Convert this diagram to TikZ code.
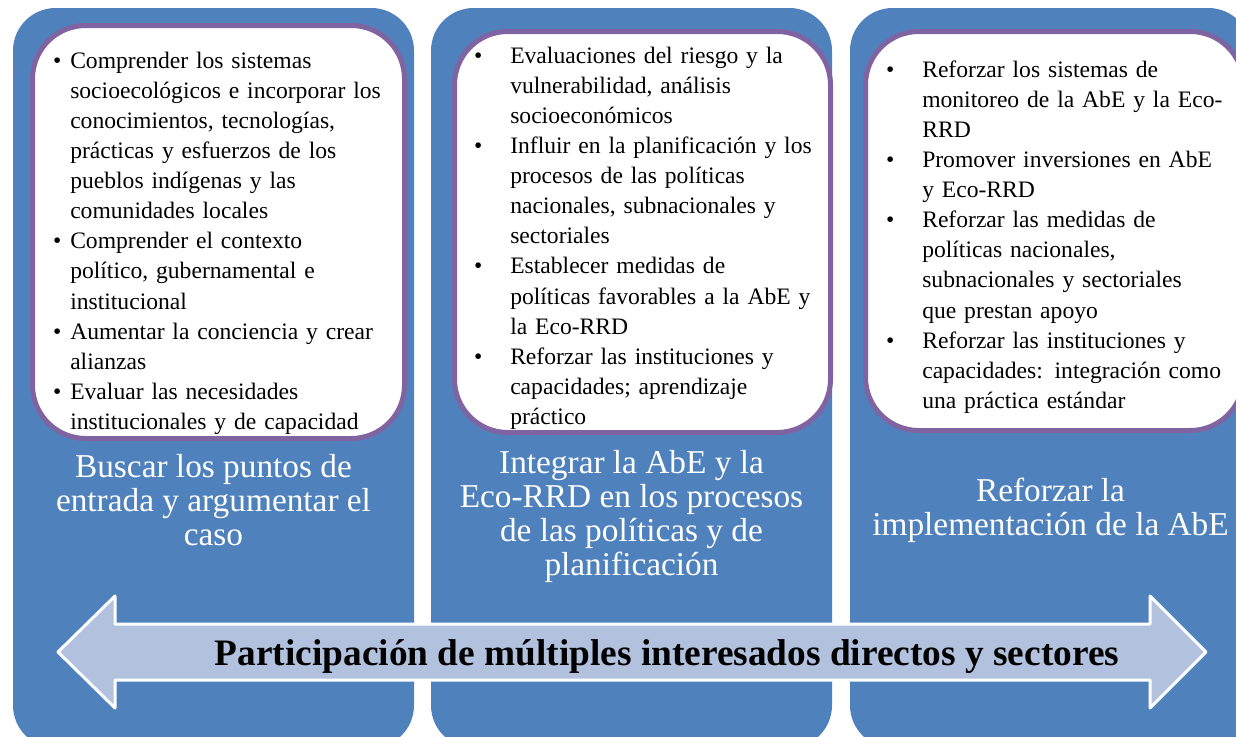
\documentclass[tikz,border=0pt]{standalone}
\usepackage{fontspec}
\setmainfont{Liberation Serif}
\usepackage{tikz}
\definecolor{colblue}{RGB}{79,129,189}
\definecolor{colpurple}{RGB}{128,100,162}
\definecolor{colarrow}{RGB}{178,194,222}
\newcommand{\itembul}[1][6.75pt]{\leavevmode\llap{\textbullet\hspace{#1}}}
\tikzset{
  column/.style={fill=colblue, rounded corners=32pt},
  listbox/.style={draw=colpurple, fill=white, line width=3.75pt, rounded corners=40pt},
  listtext/.style={anchor=base west, inner sep=0pt, text width=260pt, align=left,
    font=\fontsize{17.7}{22.6}\selectfont},
  phase/.style={anchor=base, inner sep=0pt, align=center, text=white,
    font=\fontsize{25}{25.5}\selectfont}
}

\begin{document}
\begin{tikzpicture}[x=0.75pt,y=-0.75pt]
\useasboundingbox (0,0) rectangle (1236,736);
\clip (0,0) rectangle (1236,736);
% three columns
\fill [column] (13,8) rectangle (414,748);
\fill [column] (431,8) rectangle (832,748);
\fill [column] (850,8) rectangle (1251,748);
\draw [listbox] (32.5,25.5) rectangle (404.5,438.5);
\draw [listbox] (454.5,31.5) rectangle (830.5,432.5);
\draw [listbox] (865.5,31.5) rectangle (1243.5,430.5);
\node [listtext] (list1) at (70,68) {\itembul Comprender los sistemas\\
socioecológicos e incorporar los\\
conocimientos, tecnologías,\\
prácticas y esfuerzos de los\\
pueblos indígenas y las\\
comunidades locales\\
\itembul Comprender el contexto\\
político, gubernamental e\\
institucional\\
\itembul Aumentar la conciencia y crear\\
alianzas\\
\itembul Evaluar las necesidades\\
institucionales y de capacidad};
\node [listtext] (list2) at (510,63) {\itembul[21pt]Evaluaciones del riesgo y la\\
vulnerabilidad, análisis\\
socioeconómicos\\
\itembul[21pt]Influir en la planificación y los\\
procesos de las políticas\\
nacionales, subnacionales y\\
sectoriales\\
\itembul[21pt]Establecer medidas de\\
políticas favorables a la AbE y\\
la Eco-RRD\\
\itembul[21pt]Reforzar las instituciones y\\
capacidades; aprendizaje\\
práctico};
\node [listtext] (list3) at (922,77) {\itembul[21pt]Reforzar los sistemas de\\
monitoreo de la AbE y la Eco-\\
RRD\\
\itembul[21pt]Promover inversiones en AbE\\
y Eco-RRD\\
\itembul[21pt]Reforzar las medidas de\\
políticas nacionales,\\
subnacionales y sectoriales\\
que prestan apoyo\\
\itembul[21pt]Reforzar las instituciones y\\
capacidades: integración como\\
una práctica estándar};
% phase titles (base = last line)
\node [phase] (phase1) at (213.5,545) {Buscar los puntos de\\ entrada y argumentar el\\ caso};
\node [phase] (phase2) at (631.5,575) {Integrar la AbE y la\\ Eco-RRD en los procesos\\ de las políticas y de\\ planificación};
\node [phase] (phase3) at (1050.5,535) {Reforzar la\\ implementación de la AbE};
% double arrow
\draw [draw=white, fill=colarrow, line width=2.25pt, line join=round]
  (58,652) -- (115,596) -- (115,624) -- (1150,624) -- (1150,596) -- (1206,652)
  -- (1150,708) -- (1150,680) -- (115,680) -- (115,708) -- cycle;
\node [anchor=base, inner sep=0pt, font=\fontsize{28}{32}\selectfont\bfseries] (stake) at (667,665)
  {Participación de múltiples interesados directos y sectores};
\end{tikzpicture}
\end{document}
